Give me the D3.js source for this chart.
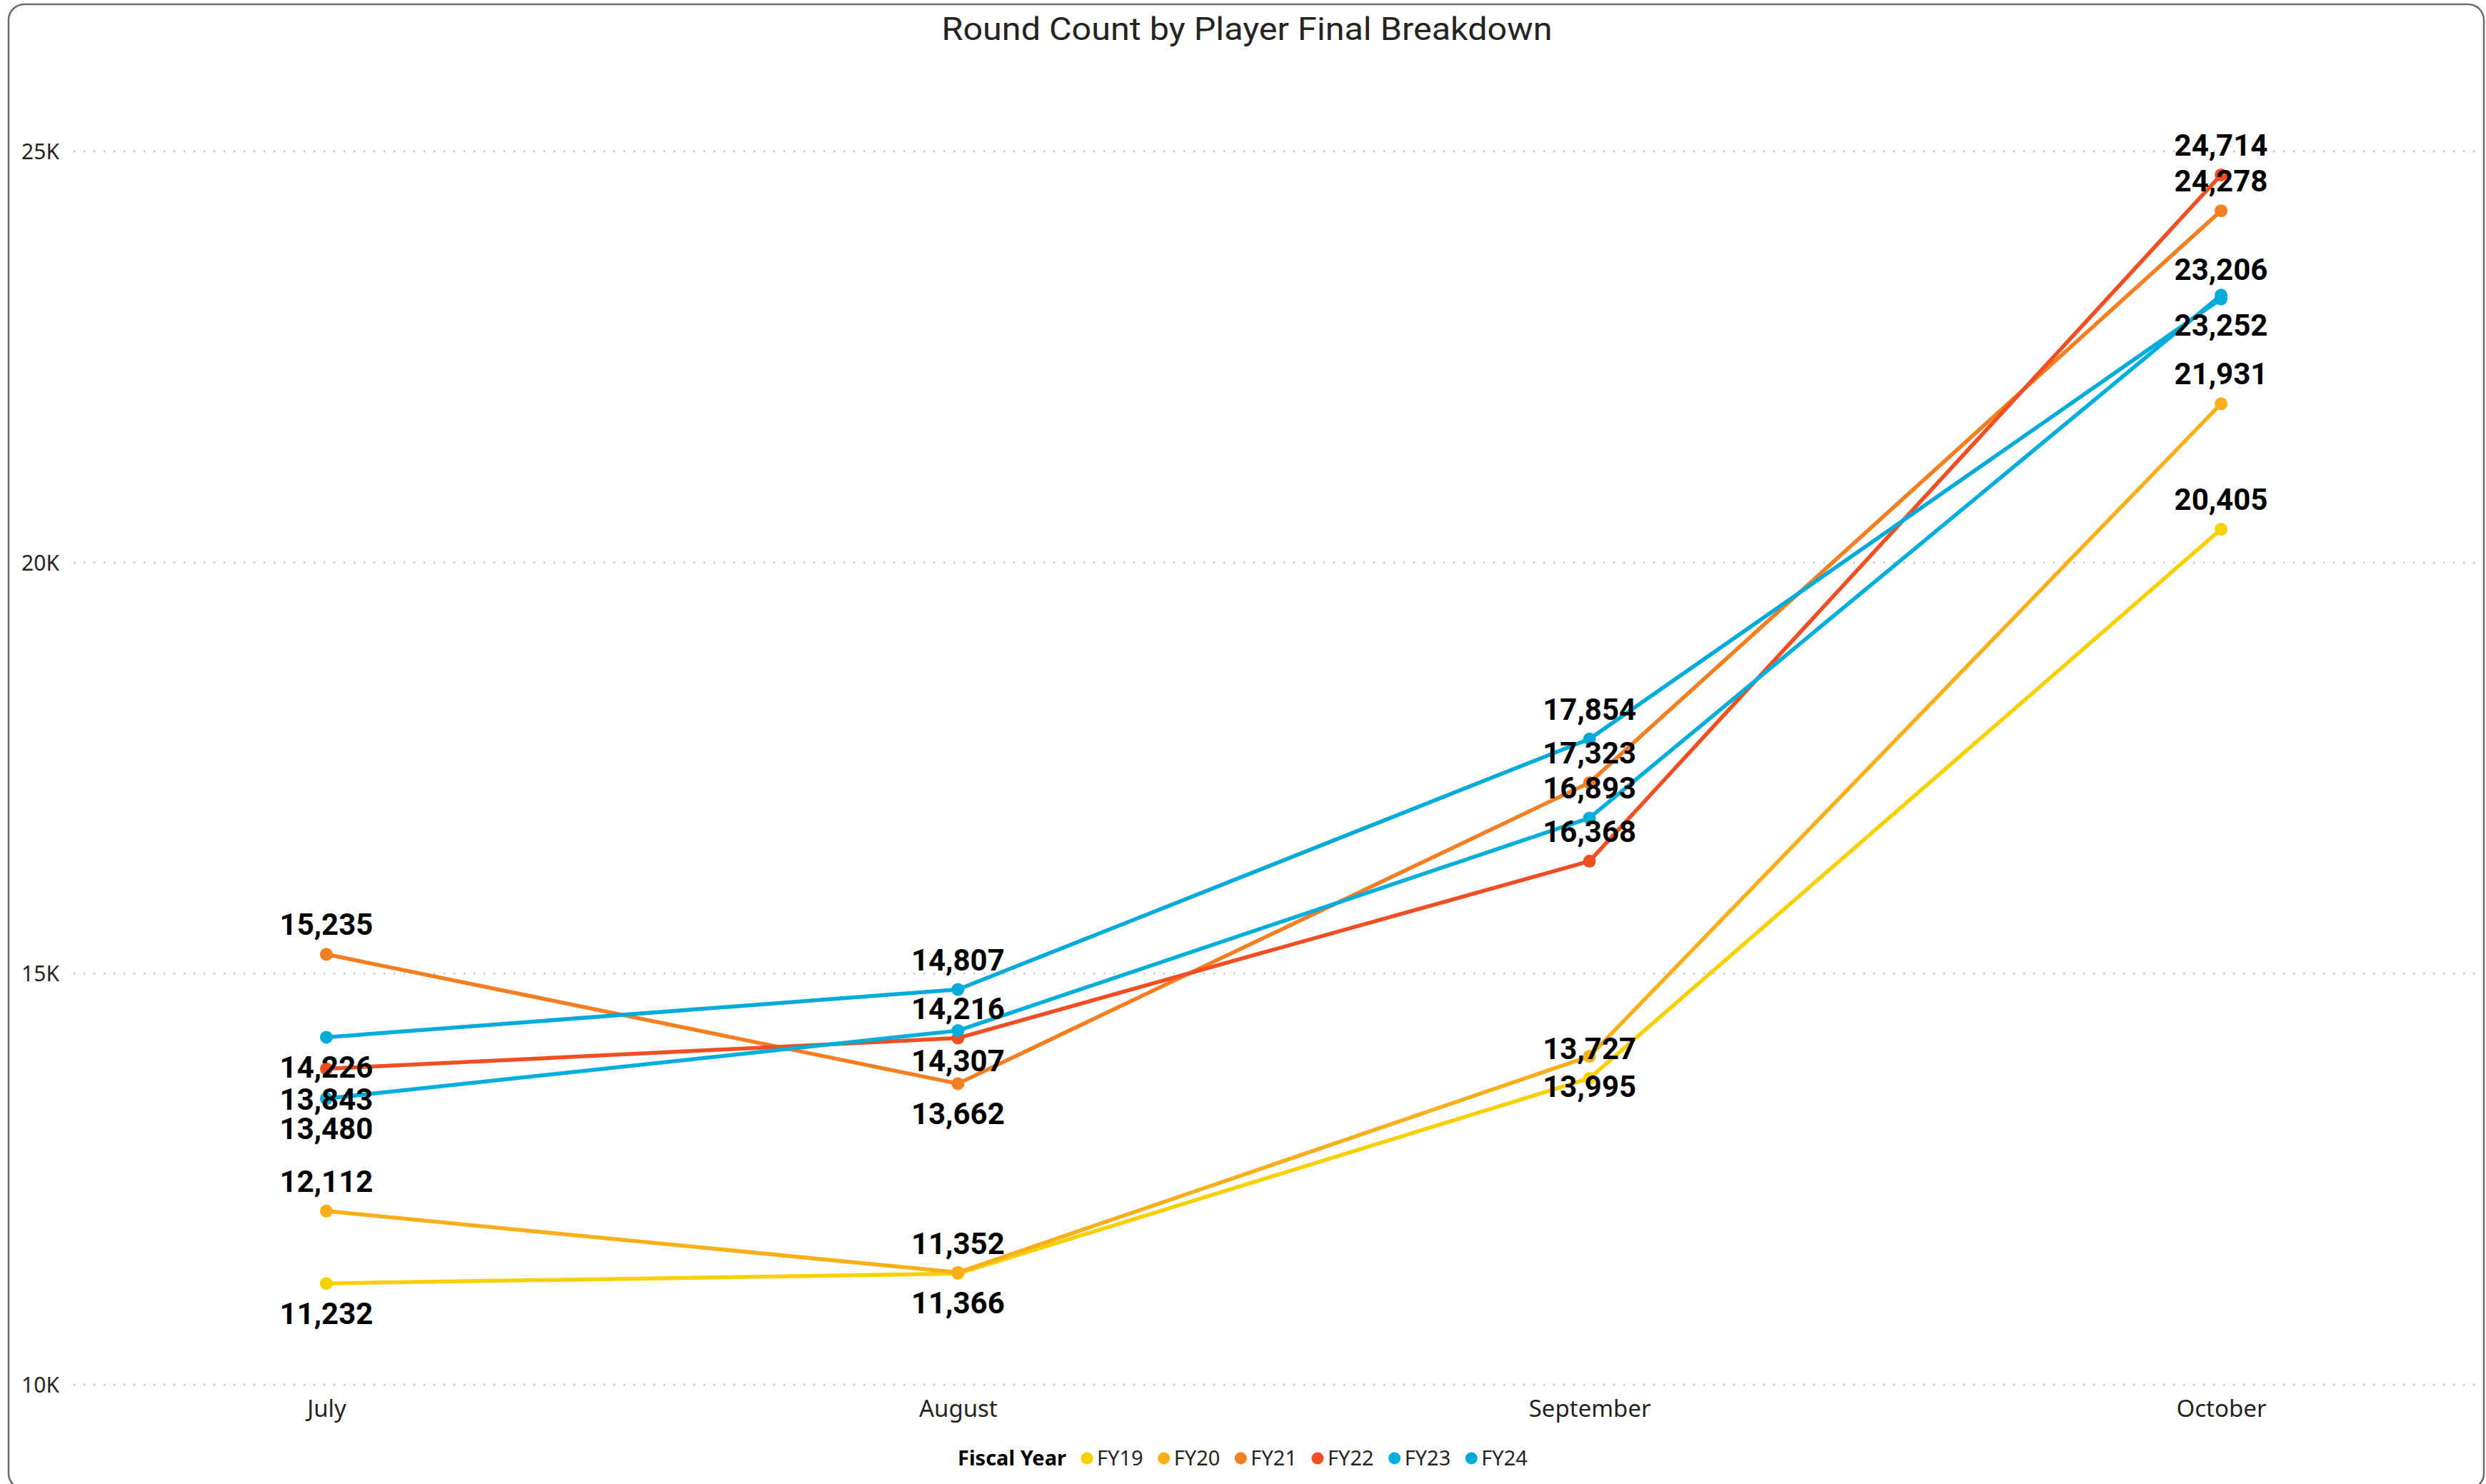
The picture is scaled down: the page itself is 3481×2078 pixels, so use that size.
<!DOCTYPE html>
<html><head><meta charset="utf-8">
<script src="https://cdn.jsdelivr.net/npm/d3@7"></script>
<style>html,body{margin:0;padding:0;background:#fff;} svg{display:block}</style>
</head><body>
<svg id="chart" width="3481" height="2078"></svg>
<script>
const months = ["July", "August", "September", "October"];
const seriesNames = ["FY19", "FY20", "FY21", "FY22", "FY23", "FY24"];
const fy19 = [11232, 11352, 13727, 20405];
const fy20 = [12112, 11366, 13995, 21931];
const fy21 = [15235, 13662, 17323, 24278];
const fy22 = [13843, 14216, 16368, 24714];
const fy23 = [13480, 14307, 16893, 23252];
const fy24 = [14226, 14807, 17854, 23206];
const yTicks = [10000, 15000, 20000, 25000];
const yTickLabels = ["10K", "15K", "20K", "25K"];
const titleText = "Round Count by Player Final Breakdown";
const legendTitle = "Fiscal Year";
const colors = ["#F8D000", "#F9AF1A", "#F47E22", "#F04F24", "#00AEDB", "#00AAD9"];
const labelSide = [
  ["below", "above", "above", "above"],
  ["above", "below", "below", "above"],
  ["above", "below", "above", "above"],
  ["below", "above", "above", "above"],
  ["below", "below", "above", "below"],
  ["below", "above", "above", "above"]
];

const allValues = [fy19, fy20, fy21, fy22, fy23, fy24];
const series = seriesNames.map((name, i) => ({
  name, color: colors[i],
  points: months.map((m, j) => ({month: m, value: allValues[i][j], side: labelSide[i][j]}))
}));

const svg = d3.select("#chart");
const W = 3481, H = 2078;

// border
svg.append("rect").attr("x", 12).attr("y", 6).attr("width", W - 15).attr("height", 2079)
  .attr("rx", 22).attr("ry", 22).attr("fill", "none").attr("stroke", "#6b6b6b").attr("stroke-width", 2.5);

const x = d3.scalePoint().domain(months).range([457, 3110]);
const y = d3.scaleLinear().domain([10000, 25000]).range([1939, 212]);

const axisFont = "'Noto Sans', 'Open Sans', sans-serif";
const labelFont = "Roboto, 'DejaVu Sans', sans-serif";

// title
svg.append("text").attr("x", 1746).attr("y", 56).attr("text-anchor", "middle")
  .attr("font-family", labelFont).attr("font-size", 44).attr("fill", "#252423")
  .attr("textLength", 855).attr("lengthAdjust", "spacingAndGlyphs")
  .text(titleText);

// gridlines
const grid = svg.append("g");
grid.selectAll("line").data(yTicks).join("line")
  .attr("x1", 103).attr("x2", 3466)
  .attr("y1", d => y(d)).attr("y2", d => y(d))
  .attr("stroke", "#c8c8c8").attr("stroke-width", 2.5)
  .attr("stroke-dasharray", "2.5 11.5");

// y axis labels
const yAxis = d3.axisLeft(y).tickValues(yTicks).tickFormat((d, i) => yTickLabels[i]).tickSize(0).tickPadding(0);
const gy = svg.append("g").attr("transform", "translate(83,0)").call(yAxis);
gy.select(".domain").remove();
gy.selectAll("text").attr("font-family", axisFont).attr("font-size", 30).attr("fill", "#252423")
  .attr("text-anchor", "end").attr("dy", "0.35em");

// x axis labels
const xAxis = d3.axisBottom(x).tickSize(0).tickPadding(0);
const gx = svg.append("g").attr("transform", "translate(0,1961)").call(xAxis);
gx.select(".domain").remove();
gx.selectAll("text").attr("font-family", axisFont).attr("font-size", 33).attr("fill", "#252423")
  .attr("dy", "0.71em");

// lines
const line = d3.line().x(d => x(d.month)).y(d => y(d.value));
const gl = svg.append("g");
series.forEach(s => {
  gl.append("path").datum(s.points).attr("d", line)
    .attr("fill", "none").attr("stroke", s.color).attr("stroke-width", 5.5)
    .attr("stroke-linejoin", "round").attr("stroke-linecap", "round");
});
series.forEach(s => {
  gl.append("g").selectAll("circle").data(s.points).join("circle")
    .attr("cx", d => x(d.month)).attr("cy", d => y(d.value)).attr("r", 9)
    .attr("fill", s.color);
});

// data labels
const gLab = svg.append("g");
const fmt = d3.format(",");
series.forEach(s => {
  gLab.append("g").selectAll("text").data(s.points).join("text")
    .attr("x", d => x(d.month))
    .attr("y", d => y(d.value) + (d.side === "above" ? -27 : 57))
    .attr("text-anchor", "middle")
    .attr("font-family", labelFont).attr("font-weight", "bold").attr("font-size", 42)
    .attr("fill", "#000")
    .text(d => fmt(d.value));
});

// legend
const lg = svg.append("g");
const ly = 2042;
let cx = 1341;
const lt = lg.append("text").attr("x", cx).attr("y", ly).attr("dy", "0.35em")
  .attr("font-family", axisFont).attr("font-weight", "bold").attr("font-size", 29)
  .attr("fill", "#000").text(legendTitle);
cx += lt.node().getComputedTextLength() + 29;
series.forEach(s => {
  lg.append("circle").attr("cx", cx).attr("cy", ly).attr("r", 8.5).attr("fill", s.color);
  const t = lg.append("text").attr("x", cx + 14).attr("y", ly).attr("dy", "0.35em")
    .attr("font-family", axisFont).attr("font-size", 29).attr("fill", "#252423").text(s.name);
  cx += 14 + t.node().getComputedTextLength() + 29;
});
</script>
</body></html>
